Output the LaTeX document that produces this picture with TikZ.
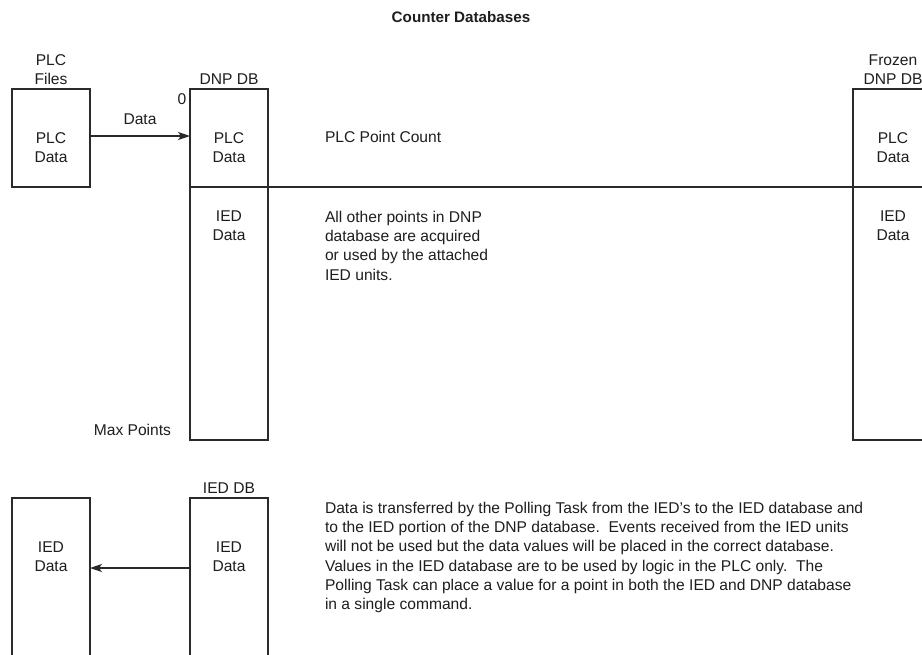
\documentclass[tikz,border=0pt]{standalone}
\usepackage{fontspec}
\setmainfont{Liberation Sans}
\usetikzlibrary{arrows.meta,calc}
\definecolor{ink}{HTML}{1E1E1E}
\definecolor{edge}{HTML}{2A2A2A}
\tikzset{
  txt/.style={font=\fontsize{15.6}{19.3}\selectfont, text=ink, inner sep=0pt, outer sep=0pt},
  ctxt/.style={txt, align=center},
  ltxt/.style={txt, align=left, anchor=north west},
  dbbox/.style={draw=edge, line width=1.3pt, inner sep=0pt, outer sep=0pt, minimum width=78pt},
  conn/.style={draw=edge, line width=1.3pt},
  arr/.style={conn, -{Stealth[length=12pt,width=8pt,inset=3pt]}}
}
\begin{document}
\begin{tikzpicture}[x=1pt,y=-1pt]
\useasboundingbox (0,0) rectangle (922,654);
\clip (0,0) rectangle (922,654);
\fill[white] (0,0) rectangle (922,654);

% title
\node[txt, font=\fontsize{15.2}{18}\selectfont\bfseries] (title) at (461,17) {Counter Databases};

% boxes
\node[dbbox, minimum height=98pt] (plcfiles) at (51,138) {};
\node[dbbox, minimum height=351pt] (dnp) at (229,264.5) {};
\node[dbbox, minimum width=82pt, minimum height=351pt] (frozen) at (894,264.5) {};
\node[dbbox, minimum height=180pt] (iedleft) at (51,588) {};
\node[dbbox, minimum height=180pt] (ieddb) at (229,588) {};

% split line
\coordinate (splitL) at (190,187);
\coordinate (splitR) at (935,187);
\draw[conn] (splitL) -- (splitR);

% labels above boxes
\node[ctxt] (lplcfiles) at (51,69.5) {PLC\\Files};
\node[ctxt] (ldnp) at (229,79) {DNP DB};
\node[ctxt] (lfrozen) at (893,69.5) {Frozen\\DNP DB};
\node[ctxt] (lieddb) at (229,488) {IED DB};
\node[txt] (zero) at (182,99) {0};
\node[txt, anchor=east] (maxpts) at (171,430) {Max Points};

% box contents
\node[ctxt] (t1) at (51,147.5) {PLC\\Data};
\node[ctxt] (t2) at (229,147.5) {PLC\\Data};
\node[ctxt] (t3) at (893,147.5) {PLC\\Data};
\node[ctxt] (t4) at (229,226) {IED\\Data};
\node[ctxt] (t5) at (893,226) {IED\\Data};
\node[ctxt] (t6) at (51,557) {IED\\Data};
\node[ctxt] (t7) at (229,557) {IED\\Data};

% arrows
\draw[arr] (plcfiles.east |- 0,136) -- (dnp.west |- 0,136)
  node[ctxt, midway, above=11pt] (ldata) {Data};
\draw[arr] (ieddb.west |- 0,568) -- (iedleft.east |- 0,568);

% descriptions
\node[txt, anchor=west] (pcount) at (325,137) {PLC Point Count};
\node[ltxt] (others) at (325,211) {All other points in DNP\\database are acquired\\or used by the attached\\IED units.};
\node[ltxt] (para) at (325,502) {Data is transferred by the Polling Task from the IED's to the IED database and\\
to the IED portion of the DNP database.\ \ Events received from the IED units\\
will not be used but the data values will be placed in the correct database.\\
Values in the IED database are to be used by logic in the PLC only.\ \ The\\
Polling Task can place a value for a point in both the IED and DNP database\\
in a single command.};
\end{tikzpicture}
\end{document}
